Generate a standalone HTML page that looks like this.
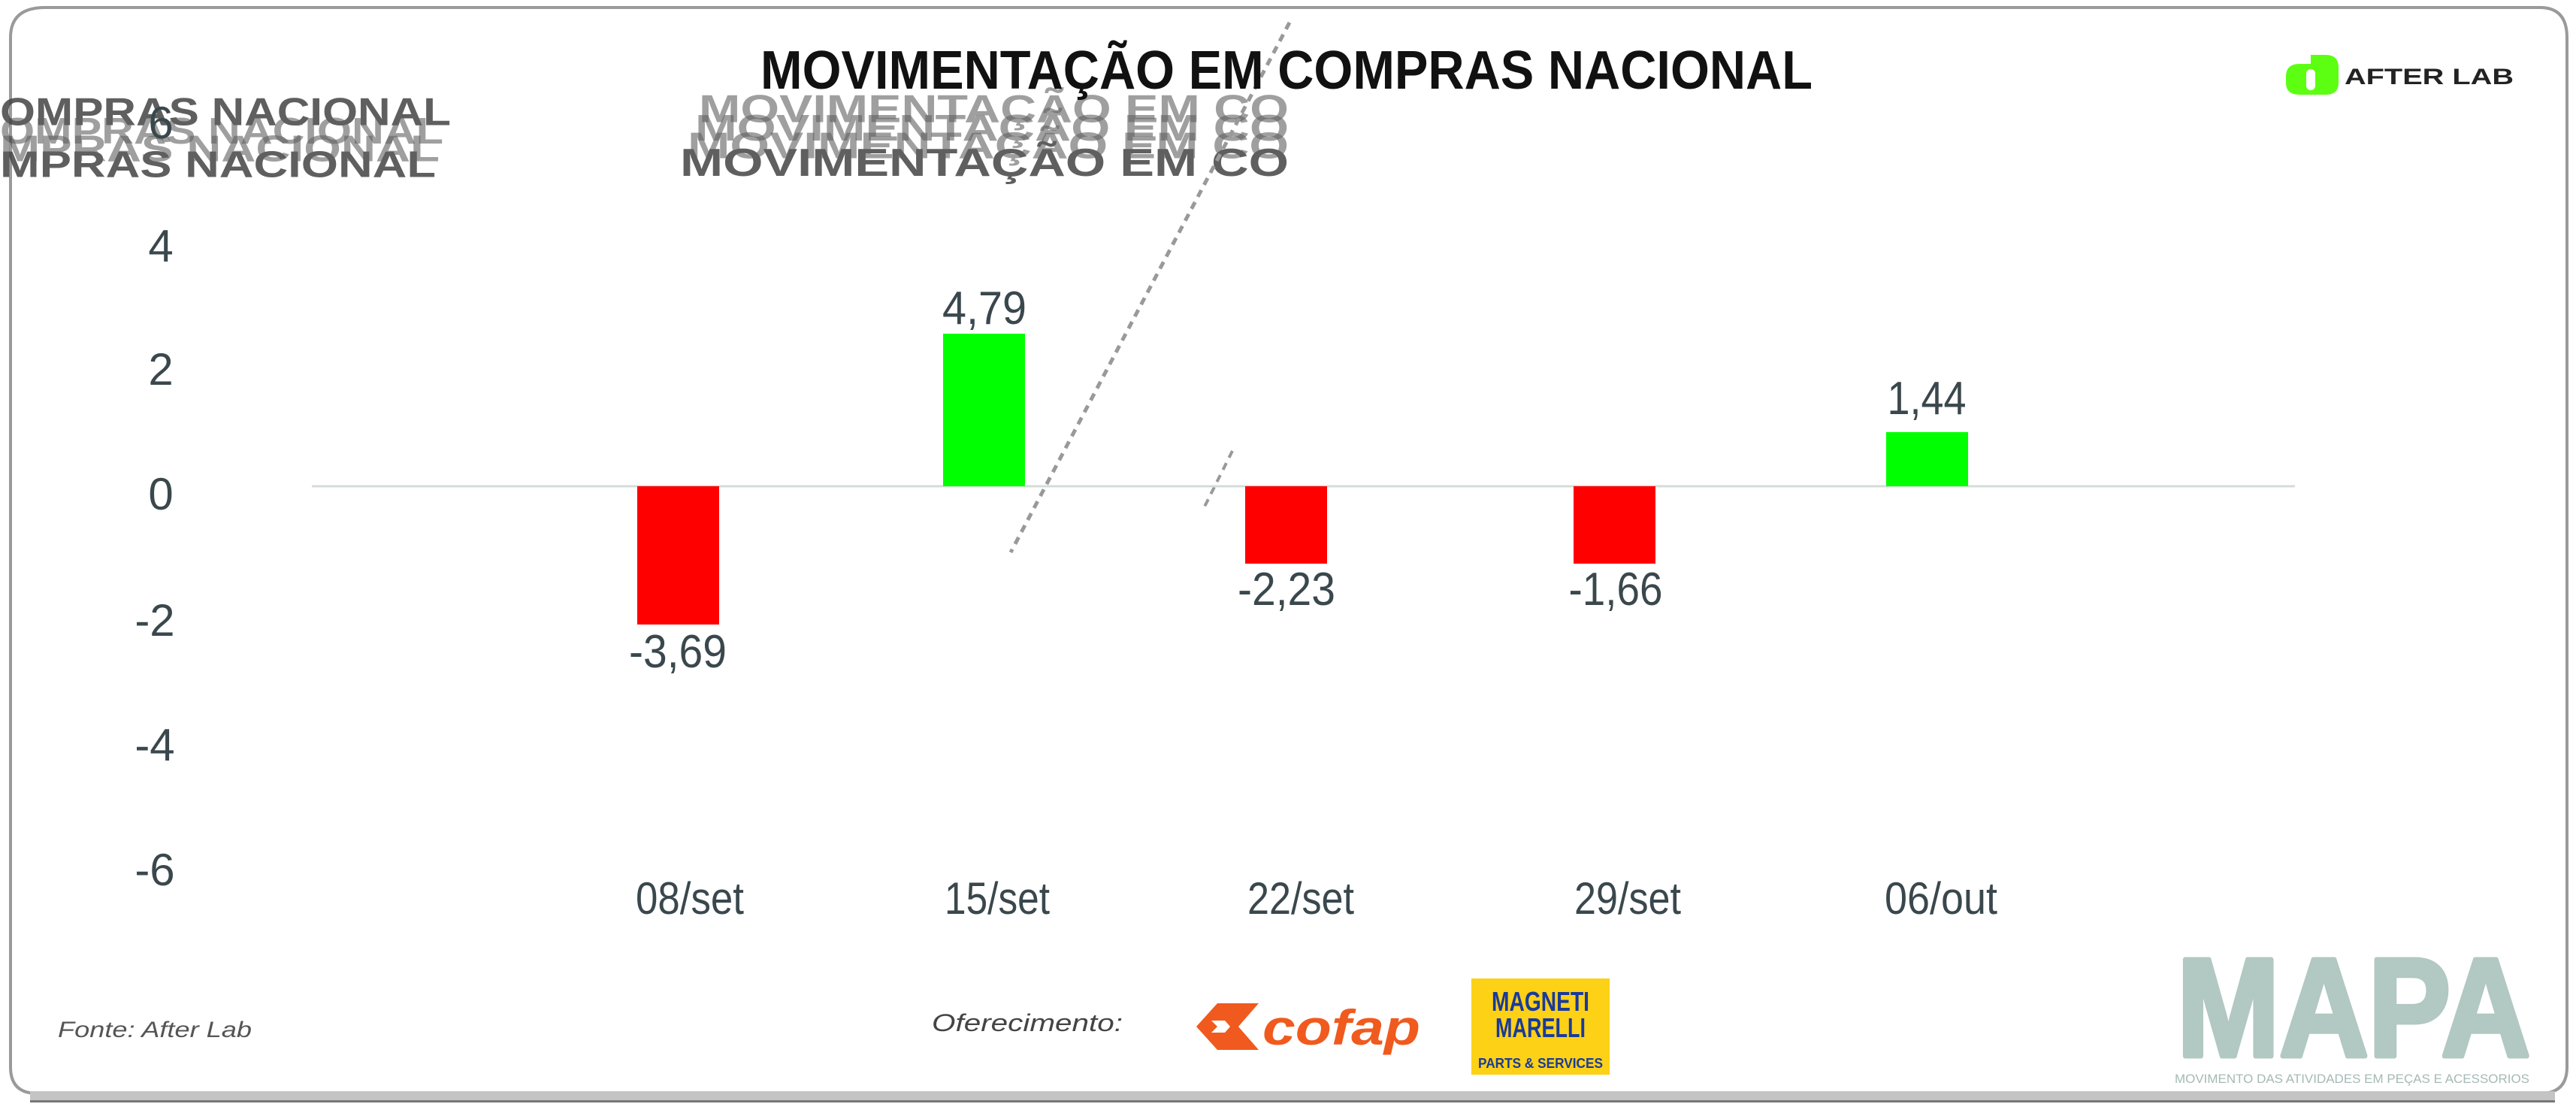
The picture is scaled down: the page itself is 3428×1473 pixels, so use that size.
<!DOCTYPE html>
<html><head><meta charset="utf-8"><style>
html,body{margin:0;padding:0;background:#fff;}
svg{display:block;}
</style></head><body>
<svg width="3428" height="1473" viewBox="0 0 3428 1473" xmlns="http://www.w3.org/2000/svg" font-family="Liberation Sans, sans-serif">
<rect width="3428" height="1473" fill="#fff"/>
<!-- frame -->
<path d="M60 10 H3380 Q3416 10 3416 50 V1420 Q3416 1455 3380 1455 H50 Q14 1455 14 1420 V50 Q14 10 60 10 Z" fill="none" stroke="#9a9a9a" stroke-width="4"/>
<rect x="40" y="1452" width="3360" height="14" fill="#c4c4c4"/>
<rect x="40" y="1464" width="3360" height="3" fill="#777"/>

<!-- ghost texts -->
<g fill="#444" opacity="0.85" font-weight="bold">
<g transform="translate(0,0) scale(1,1.3)">
<text x="0" y="128" font-size="40" textLength="600" lengthAdjust="spacingAndGlyphs">OMPRAS NACIONAL</text>
<text x="0" y="147" font-size="38" textLength="590" lengthAdjust="spacingAndGlyphs" opacity="0.6">OMPRAS NACIONAL</text>
<text x="0" y="165" font-size="38" textLength="585" lengthAdjust="spacingAndGlyphs" opacity="0.6">MPRAS NACIONAL</text>
<text x="0" y="181" font-size="38" textLength="580" lengthAdjust="spacingAndGlyphs">MPRAS NACIONAL</text>
<text x="930" y="125" font-size="40" textLength="785" lengthAdjust="spacingAndGlyphs" opacity="0.6">MOVIMENTAÇÃO EM CO</text>
<text x="925" y="144" font-size="38" textLength="790" lengthAdjust="spacingAndGlyphs" opacity="0.6">MOVIMENTAÇÃO EM CO</text>
<text x="915" y="162" font-size="38" textLength="800" lengthAdjust="spacingAndGlyphs" opacity="0.6">MOVIMENTAÇÃO EM CO</text>
<text x="905" y="180" font-size="40" textLength="810" lengthAdjust="spacingAndGlyphs">MOVIMENTAÇÃO EM CO</text>
</g>
</g>
<!-- dashed diagonal -->
<line x1="1716" y1="30" x2="1345" y2="735" stroke="#999" stroke-width="5" stroke-dasharray="10 8"/>
<line x1="1640" y1="600" x2="1600" y2="680" stroke="#999" stroke-width="4" stroke-dasharray="10 8"/>

<!-- title -->
<text x="1712" y="118" font-size="72" font-weight="bold" fill="#111" text-anchor="middle" textLength="1400" lengthAdjust="spacingAndGlyphs">MOVIMENTAÇÃO EM COMPRAS NACIONAL</text>

<!-- afterlab logo -->
<path d="M3075 73 H3095 Q3112 73 3112 90 V110 Q3112 126 3095 126 H3082 V126 Q3075 126 3075 118 V90 Z" fill="#5cff12"/>
<path d="M3060 85 H3082 V126 H3060 Q3042 126 3042 110 V102 Q3042 85 3060 85 Z" fill="#5cff12"/>
<rect x="3069" y="92" width="12" height="28" rx="6" fill="#fff"/>
<text x="3120" y="112" font-size="30" font-weight="bold" fill="#222" textLength="225" lengthAdjust="spacingAndGlyphs">AFTER LAB</text>

<!-- y axis labels -->
<g font-size="60" fill="#3a484d" text-anchor="middle">
<text x="214" y="184">6</text>
<text x="214" y="348">4</text>
<text x="214" y="512">2</text>
<text x="214" y="678">0</text>
<text x="206" y="846">-2</text>
<text x="206" y="1012">-4</text>
<text x="206" y="1178">-6</text>
</g>

<!-- zero line -->
<line x1="415" y1="647" x2="3054" y2="647" stroke="#d4dcda" stroke-width="3"/>

<!-- bars -->
<rect x="848" y="647" width="109" height="184" fill="#ff0000"/>
<rect x="1255" y="444" width="109" height="203" fill="#00ff00"/>
<rect x="1657" y="647" width="109" height="103" fill="#ff0000"/>
<rect x="2094" y="647" width="109" height="103" fill="#ff0000"/>
<rect x="2510" y="575" width="109" height="72" fill="#00ff00"/>

<!-- value labels -->
<g font-size="62" fill="#3a484d" text-anchor="middle">
<text x="902" y="888" textLength="130" lengthAdjust="spacingAndGlyphs">-3,69</text>
<text x="1310" y="431" textLength="112" lengthAdjust="spacingAndGlyphs">4,79</text>
<text x="1712" y="805" textLength="130" lengthAdjust="spacingAndGlyphs">-2,23</text>
<text x="2150" y="805" textLength="125" lengthAdjust="spacingAndGlyphs">-1,66</text>
<text x="2564" y="551" textLength="105" lengthAdjust="spacingAndGlyphs">1,44</text>
</g>

<!-- categories -->
<g font-size="60" fill="#3a484d" text-anchor="middle">
<text x="918" y="1216" textLength="144" lengthAdjust="spacingAndGlyphs">08/set</text>
<text x="1327" y="1216" textLength="140" lengthAdjust="spacingAndGlyphs">15/set</text>
<text x="1731" y="1216" textLength="142" lengthAdjust="spacingAndGlyphs">22/set</text>
<text x="2166" y="1216" textLength="142" lengthAdjust="spacingAndGlyphs">29/set</text>
<text x="2583" y="1216" textLength="150" lengthAdjust="spacingAndGlyphs">06/out</text>
</g>

<!-- footer -->
<text x="77" y="1380" font-size="30" font-style="italic" fill="#555" textLength="258" lengthAdjust="spacingAndGlyphs">Fonte: After Lab</text>
<text x="1240" y="1372" font-size="32" font-style="italic" fill="#444" textLength="254" lengthAdjust="spacingAndGlyphs">Oferecimento:</text>

<!-- cofap -->
<path d="M1620 1335 H1675 L1648 1366 L1675 1397 H1620 L1592 1366 Z" fill="#f05a1e"/>
<path d="M1612 1358 H1630 L1637 1366 L1630 1374 H1612 L1620 1366 Z" fill="#fff"/>
<text x="1680" y="1390" font-size="66" font-weight="bold" font-style="italic" fill="#f05a1e" textLength="210" lengthAdjust="spacingAndGlyphs">cofap</text>

<!-- magneti marelli -->
<rect x="1958" y="1302" width="184" height="128" fill="#fcd116"/>
<text x="2050" y="1345" font-size="36" font-weight="bold" fill="#1a3a9a" text-anchor="middle" textLength="130" lengthAdjust="spacingAndGlyphs">MAGNETI</text>
<text x="2050" y="1380" font-size="36" font-weight="bold" fill="#1a3a9a" text-anchor="middle" textLength="120" lengthAdjust="spacingAndGlyphs">MARELLI</text>
<text x="2050" y="1421" font-size="18" font-weight="bold" fill="#1a3a9a" text-anchor="middle" textLength="166" lengthAdjust="spacingAndGlyphs">PARTS &amp; SERVICES</text>

<!-- MAPA -->
<text x="2897" y="1405" font-size="186" font-weight="bold" fill="#b2c8c2" stroke="#b2c8c2" stroke-width="7" stroke-linejoin="round" textLength="470" lengthAdjust="spacingAndGlyphs">MAPA</text>
<text x="2894" y="1441" font-size="17" fill="#a5bab5" textLength="472" lengthAdjust="spacingAndGlyphs">MOVIMENTO DAS ATIVIDADES EM PEÇAS E ACESSORIOS</text>
</svg>
</body></html>
